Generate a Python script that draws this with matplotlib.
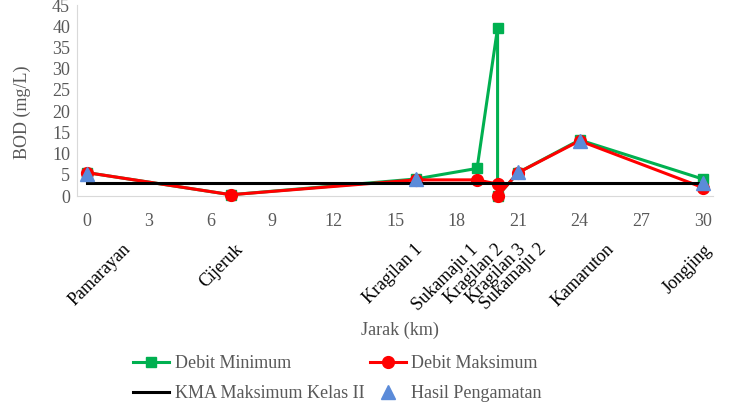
import matplotlib
matplotlib.use('Agg')
import matplotlib.pyplot as plt

# data
min_km = [0, 7, 16, 19, 20, 20, 21, 24, 30]
min_bod = [5.5, 0.3, 4.0, 6.5, 39.6, 0.0, 5.5, 13.2, 4.0]

max_km = [0, 7, 16, 19, 20, 20, 21, 24, 30]
max_bod = [5.5, 0.3, 3.8, 3.8, 2.8, 0.0, 5.5, 13.0, 2.0]

kma_km = [0, 30]
kma_bod = [3, 3]

obs_km = [0, 16, 21, 24, 30]
obs_bod = [5.3, 3.9, 5.6, 12.9, 3.0]

stations = ['Pamarayan', 'Cijeruk', 'Kragilan 1', 'Sukamaju 1', 'Kragilan 2',
            'Kragilan 3', 'Sukamaju 2', 'Kamaruton', 'Jongjing']
# where each station name ends along the axis (layout only)
station_label_x = [1.7, 7.15, 15.95, 18.65, 19.85, 20.95, 21.95, 25.25, 30.05]

GRAY = '#595959'
plt.rcParams['font.family'] = ['Liberation Serif', 'DejaVu Serif']

fig = plt.figure(figsize=(7.34, 4.08), dpi=100)
ax = fig.add_axes([77 / 734, 1 - 196 / 408, (713 - 77) / 734, (196 - 5) / 408])

l_min, = ax.plot(min_km, min_bod, color='#00B050', lw=2.2, marker='s', ms=7.5,
                 label='Debit Minimum', zorder=2, clip_on=False)
l_max, = ax.plot(max_km, max_bod, color='#FF0000', lw=2.2, marker='o', ms=8.5,
                 label='Debit Maksimum', zorder=3, clip_on=False)
l_kma, = ax.plot(kma_km, kma_bod, color='black', lw=2.2,
                 label='KMA Maksimum Kelas II', zorder=4)
l_obs, = ax.plot(obs_km, obs_bod, ls='none', marker='^', ms=10, color='#5B8BD9',
                 label='Hasil Pengamatan', zorder=5, clip_on=False)

ax.set_xlim(-0.5, 30.5)
ax.set_ylim(0, 45)
ax.set_xticks(range(0, 31, 3))
ax.set_yticks(range(0, 46, 5))
ax.tick_params(length=0, labelsize=13, labelcolor=GRAY)
ax.tick_params(axis='x', pad=12)
ax.tick_params(axis='y', pad=5)
for s in ['top', 'right']:
    ax.spines[s].set_visible(False)
for s in ['left', 'bottom']:
    ax.spines[s].set_color('#D9D9D9')

ax.set_ylabel('BOD (mg/L)', fontsize=13, color=GRAY)
ax.yaxis.set_label_coords(-0.072, 0.44)
fig.text(400 / 734, 1 - 330 / 408, 'Jarak (km)', fontsize=13, color=GRAY,
         ha='center', va='center')

for name, xl in zip(stations, station_label_x):
    ax.text(xl, -0.235, name, transform=ax.get_xaxis_transform(),
            rotation=45, rotation_mode='anchor', ha='right', va='top',
            fontsize=13, color='black')

# order so rows read Min, Max / KMA, Hasil
handles = [l_min, l_kma, l_max, l_obs]
fig.legend(handles, [h.get_label() for h in handles],
           loc='upper left', bbox_to_anchor=(124 / 734, 1 - 346 / 408), ncol=2,
           frameon=False, borderpad=0, fontsize=13, handlelength=2.0,
           handletextpad=0.3, columnspacing=0.3, labelspacing=0.72,
           labelcolor=GRAY)

fig.savefig('out.png', dpi=100)
